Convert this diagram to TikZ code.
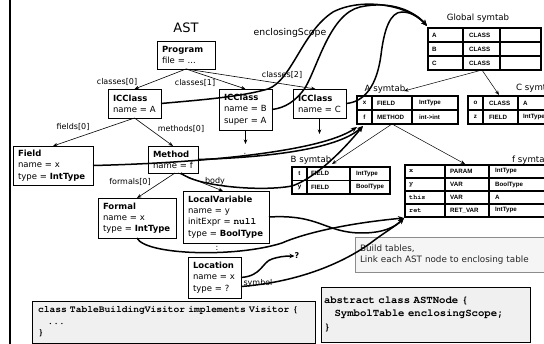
\documentclass[tikz,border=0pt]{standalone}
\usepackage{fontspec}
\setmainfont{DejaVu Sans}
\newfontfamily\codefont{texgyrecursor}[Extension=.otf, UprightFont=*-regular, BoldFont=*-bold]
\newfontfamily\tabfont{Liberation Sans}
\usetikzlibrary{arrows.meta}

\begin{document}
\begin{tikzpicture}[x=1pt,y=-1pt,
  astbox/.style={draw=black, line width=0.9pt, fill=white, anchor=north west,
    inner xsep=5pt, inner ysep=0pt, outer sep=0pt, align=left,
    font=\fontsize{8.5}{11.2}\selectfont},
  lbl/.style={font=\fontsize{8}{9}\selectfont, inner sep=0pt},
  ttl/.style={font=\fontsize{8.6}{10}\selectfont, inner sep=0pt},
  edge/.style={line width=0.6pt, -{Stealth[length=4.5pt,width=3.5pt]}},
  parent/.style={line width=0.5pt, -{Stealth[length=4.5pt,width=3.5pt]}},
  scopeln/.style={line width=1.5pt, -{Stealth[length=6pt,width=5pt]}},
  tabline/.style={line width=1.3pt},
  cell/.style={font=\tabfont\bfseries\fontsize{6.2}{7}\selectfont, inner sep=0pt, anchor=west},
  cellc/.style={cell, anchor=center},
  cellm/.style={font=\codefont\bfseries\fontsize{6.8}{7}\selectfont, inner sep=0pt, anchor=west},
  codebox/.style={draw=black, line width=0.9pt, fill=black!6, anchor=north west,
    outer sep=0pt, inner ysep=0pt, align=left},
]
\useasboundingbox (0,0) rectangle (544,344);

% left rule of the slide
\draw[line width=2pt] (10,0) -- (10,344);

% ---------------- symbol tables ----------------
% Global symtab
\node[ttl] (gtitle) at (478,18) {Global symtab};
\draw[tabline, fill=white] (428,28) rectangle (541,70);
\draw[tabline] (428,42) -- (541,42) (428,56) -- (541,56) (463,28) -- (463,70) (500,28) -- (500,70);
\node[cell] (gA)  at (432,35) {A};  \node[cell] (gAk) at (469,35) {CLASS};
\node[cell] (gB)  at (432,49) {B};  \node[cell] (gBk) at (469,49) {CLASS};
\node[cell] (gC)  at (432,63) {C};  \node[cell] (gCk) at (469,63) {CLASS};

% A symtab
\node[ttl] (atitle) at (385,89) {A symtab};
\draw[tabline, fill=white] (357,96) rectangle (458,124);
\draw[tabline] (357,110) -- (458,110) (372,96) -- (372,124) (412,96) -- (412,124);
\node[cellc] (ax) at (364.5,103) {x}; \node[cell] (axk) at (377,103) {FIELD};  \node[cell] (axt) at (419,103) {IntType};
\node[cellc] (af) at (364.5,117) {f}; \node[cell] (afk) at (377,117) {METHOD}; \node[cell] (aft) at (419,117) {int-{}>int};

% C symtab
\node[ttl, anchor=west] (ctitle) at (516,88) {C symtab};
\draw[tabline, fill=white] (468,96) rectangle (580,124);
\draw[tabline] (468,110) -- (580,110) (483,96) -- (483,124) (518,96) -- (518,124);
\node[cellc] (co) at (475.5,103) {o}; \node[cell] (cok) at (489,103) {CLASS}; \node[cell] (cot) at (523,103) {A};
\node[cellc] (cz) at (475.5,117) {z}; \node[cell] (czk) at (489,117) {FIELD}; \node[cell] (czt) at (523,117) {IntType};

% B symtab
\node[ttl] (btitle) at (311,160) {B symtab};
\draw[tabline, fill=white] (292,167) rectangle (390,194);
\draw[tabline] (292,180.5) -- (390,180.5) (307,167) -- (307,194) (350,167) -- (350,194);
\node[cellc] (bt) at (299.5,173.7) {t}; \node[cell] (btk) at (311,173.7) {FIELD}; \node[cell] (btt) at (356,173.7) {IntType};
\node[cellc] (by) at (299.5,187.3) {y}; \node[cell] (byk) at (311,187.3) {FIELD}; \node[cell] (byt) at (356,187.3) {BoolType};

% f symtab
\node[ttl, anchor=west] (ftitle) at (512,160) {f symtab};
\draw[tabline, fill=white] (405,165) rectangle (580,217);
\draw[tabline] (405,178) -- (580,178) (405,191) -- (580,191) (405,204) -- (580,204)
               (445,165) -- (445,217) (489,165) -- (489,217);
\node[cellm] (fx) at (409,171.5) {x};    \node[cell] (fxk) at (450,171.5) {PARAM};   \node[cell] (fxt) at (495,171.5) {IntType};
\node[cellm] (fy) at (409,184.5) {y};    \node[cell] (fyk) at (450,184.5) {VAR};     \node[cell] (fyt) at (495,184.5) {BoolType};
\node[cellm] (ft) at (409,197.5) {this}; \node[cell] (ftk) at (450,197.5) {VAR};     \node[cell] (ftt) at (495,197.5) {A};
\node[cellm] (fr) at (409,210.5) {ret};  \node[cell] (frk) at (450,210.5) {RET\_VAR}; \node[cell] (frt) at (495,210.5) {IntType};

% arrival points of the scope pointers
\coordinate (gsym) at (427,26);
\coordinate (asym1) at (357,127);
\coordinate (asym2) at (363,126);
\coordinate (fsym) at (404,218);
\coordinate (gbot) at (482,70);
\coordinate (abot) at (392,124);

% parent links between tables
\draw[parent] (gbot) -- (404,91);
\draw[parent] (gbot) -- (499,95);
\draw[parent] (abot) -- (465,164);
\draw[parent] (abot) -- (332,164);

% ---------------- AST ----------------
\node[font=\fontsize{13}{15}\selectfont, inner sep=0pt] (ast) at (186,28) {AST};
\node[lbl, font=\fontsize{9.3}{11}\selectfont] (encl) at (290,33) {enclosingScope};

\node[astbox, minimum width=58pt, minimum height=28pt, text width=48pt] (prog) at (157,41) {\textbf{Program}\\file = ...};
\node[astbox, minimum width=53pt, minimum height=29pt, text width=43pt] (clsA) at (108,89) {\textbf{ICClass}\\name = A};
\node[astbox, minimum width=53pt, minimum height=41pt, text width=43pt] (clsB) at (219,89) {\textbf{ICClass}\\name = B\\super = A};
\node[astbox, minimum width=53pt, minimum height=29pt, text width=43pt] (clsC) at (293,89) {\textbf{ICClass}\\name = C};
\node[astbox, minimum width=80pt, minimum height=39pt, text width=70pt] (field) at (13,146) {\textbf{Field}\\name = x\\type = \textbf{IntType}};
\node[astbox, minimum width=50pt, minimum height=27pt, text width=40pt] (method) at (148,146) {\textbf{Method}\\name = f};
\node[astbox, minimum width=78pt, minimum height=40pt, text width=68pt] (formal) at (98,198) {\textbf{Formal}\\name = x\\type = \textbf{IntType}};
\node[astbox, minimum width=86pt, minimum height=52pt, text width=76pt] (lv) at (183,191) {\textbf{LocalVariable}\\name = y\\initExpr = {\codefont\bfseries\fontsize{9.5}{11.2}\selectfont null}\\type = \textbf{BoolType}};
\node[astbox, minimum width=53pt, minimum height=41pt, text width=43pt] (loc) at (188,257) {\textbf{Location}\\name = x\\type = ?};

% child edges
\draw[edge] (prog.south) -- (clsA.north);
\draw[edge] (prog.south) -- (clsB.north);
\draw[edge] (prog.south) -- ([xshift=-4pt]clsC.north);
\node[lbl] (c0) at (117,82) {classes[0]};
\node[lbl] (c1) at (195,83) {classes[1]};
\node[lbl] (c2) at (282,75) {classes[2]};

\draw[edge] (clsA.south) -- (field.north);
\draw[edge] (clsA.south) -- (method.north);
\node[lbl] (f0) at (73,127) {fields[0]};
\node[lbl] (m0) at (181,129) {methods[0]};

\draw[edge] ([xshift=2pt]method.south) -- (formal.north);
\draw[edge] ([xshift=5pt]method.south) -- ([xshift=-3pt]lv.north);
\node[lbl] (fm0) at (130,182) {formals[0]};
\node[lbl] (bd) at (215,181) {body};

\coordinate (bdown) at (245.5,144);
\coordinate (cdown) at (319.5,134);
\draw[edge] (clsB.south) -- (bdown);
\draw[edge] (clsC.south) -- (cdown);
\node[lbl] (bdots) at (245,155) {:};
\node[lbl] (lvdots) at (217,248) {:};

% note box
\node[draw=black!45, line width=0.6pt, fill=black!4, anchor=north west, minimum width=200pt,
      minimum height=35pt, text width=190pt, inner xsep=4pt, align=left, outer sep=0pt,
      font=\fontsize{8.8}{10.5}\selectfont, text=black!85] (note) at (355,237)
      {Build tables,\\Link each AST node to enclosing table};

% ---------------- enclosingScope pointers ----------------
\draw[scopeln] (clsA.east) .. controls (200,100) and (240,97) .. (268,89)
   .. controls (292,80) and (302,32) .. (333,12) .. controls (362,-3) and (408,5) .. (gsym);
\draw[scopeln] (clsB.east) .. controls (285,108) and (296,101) .. (305,88)
   .. controls (318,66) and (330,14) .. (360,7) .. controls (392,0) and (415,12) .. (gsym);
\draw[scopeln] (clsC.east) .. controls (365,102) and (377,85) .. (381,55)
   .. controls (384,30) and (390,12) .. (402,12) .. controls (412,12) and (420,18) .. (gsym);

\draw[scopeln] (field.east) .. controls (200,163) and (320,152) .. (asym1);
\draw[scopeln] (method.east) .. controls (280,157) and (340,147) .. (asym2);
\draw[scopeln] ([xshift=8pt]method.south) .. controls (195,186) and (260,192) .. (292,186)
   .. controls (310,180) and (335,160) .. (asym2);

\draw[scopeln] (formal.south) .. controls (145,255) and (235,258) .. (282,243)
   .. controls (300,235) and (340,224) .. (fsym);
\draw[scopeln] (lv.east) .. controls (320,214) and (325,233) .. (362,233)
   .. controls (385,233) and (396,226) .. (fsym);
\draw[scopeln] ([yshift=-9pt]loc.east) .. controls (300,282) and (345,262) .. (372,242)
   .. controls (385,232) and (396,226) .. (fsym);

\node[font=\bfseries\fontsize{8}{9}\selectfont, inner sep=0pt] (q) at (297,256) {?};
\draw[line width=1.5pt, -{Stealth[length=5pt,width=4.5pt]}] (loc.east) .. controls (262,276) and (262,262) .. (272,259)
   .. controls (278,257) and (284,256) .. (q.west);
\node[lbl] (sym) at (258,283) {symbol};

% ---------------- code boxes ----------------
\node[codebox, minimum width=281pt, minimum height=42pt, text width=271pt, inner xsep=6pt,
      font=\codefont\bfseries\fontsize{9.6}{11.5}\selectfont] (code1) at (32,301)
      {class TableBuildingVisitor implements Visitor \{\\\ \ \ ...\\\}};
\node[codebox, minimum width=209pt, minimum height=55pt, text width=203pt, inner xsep=3pt,
      font=\codefont\bfseries\fontsize{10.6}{13.5}\selectfont] (code2) at (321,287)
      {abstract class ASTNode \{\\\ \ \ SymbolTable enclosingScope;\\\}};
\end{tikzpicture}
\end{document}
